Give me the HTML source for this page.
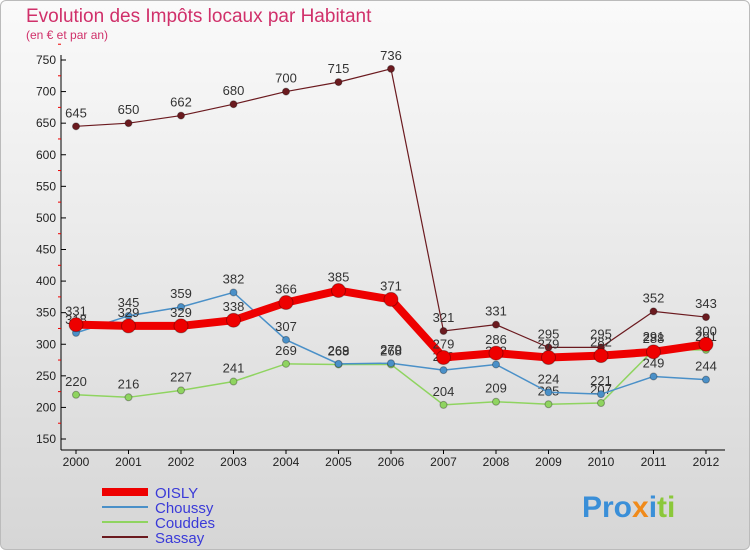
<!DOCTYPE html>
<html><head><meta charset="utf-8"><style>
body{margin:0;width:750px;height:550px;overflow:hidden;font-family:"Liberation Sans",sans-serif}
#c{position:absolute;left:0;top:0;width:748px;height:548px;border:1px solid #bbb;border-radius:6px;background:linear-gradient(#fafafa,#d6d6d6)}
</style></head><body>
<div id="c"></div>
<svg id="s" width="750" height="550" style="position:absolute;left:0;top:0">
<text x="26" y="22" font-size="19" fill="#d0306a">Evolution des Impôts locaux par Habitant</text>
<text x="26" y="39" font-size="12" fill="#d0306a">(en € et par an)</text>
<g id="ax"></g><g id="ser"></g><g id="leg"></g>
<text x="582" y="517" font-size="30" font-weight="bold" fill="#3a8fd8">Pro<tspan fill="#f08a1a">x</tspan><tspan fill="#3a8fd8">i</tspan><tspan fill="#8bc83a">ti</tspan></text>
</svg>
<script>
const years=[2000,2001,2002,2003,2004,2005,2006,2007,2008,2009,2010,2011,2012];
const yTicks=[150,200,250,300,350,400,450,500,550,600,650,700,750];
const oisly=[331,329,329,338,366,385,371,279,286,279,282,288,300];
const choussy=[318,345,359,382,307,269,270,259,268,224,221,249,244];
const couddes=[220,216,227,241,269,268,268,204,209,205,207,291,291];
const sassay=[645,650,662,680,700,715,736,321,331,295,295,352,343];
const NS="http://www.w3.org/2000/svg";
const X=i=>76+i*52.5, Y=v=>60+(750-v)*(379/600);
function mk(t,a,p){const e=document.createElementNS(NS,t);for(const k in a)e.setAttribute(k,a[k]);(p||document.getElementById('ax')).appendChild(e);return e;}
const ax=document.getElementById('ax');
let e=mk('line',{x1:61,y1:55,x2:61,y2:450,stroke:'#000'});


e=mk('line',{x1:61,y1:450,x2:725,y2:450,stroke:'#000'});


yTicks.forEach(v=>{mk('line',{x1:61,y1:Y(v),x2:66,y2:Y(v),stroke:'#000'});mk('line',{x1:58,y1:Y(v+25),x2:61,y2:Y(v+25),stroke:'#e00'});
 const t=mk('text',{x:56,y:Y(v)+4,'font-size':12,'text-anchor':'end',fill:'#222'});t.textContent=v;
 
 });
years.forEach((y,i)=>{mk('line',{x1:X(i),y1:450,x2:X(i),y2:454,stroke:'#000'});
 const t=mk('text',{x:X(i),y:466,'font-size':12,'text-anchor':'middle',fill:'#222'});t.textContent=y;
 
 });
const g=document.getElementById('ser');
function series(d,col,w,r,name){
 const p=mk('polyline',{points:d.map((v,i)=>X(i)+','+Y(v)).join(' '),fill:'none',stroke:col,'stroke-width':w},g);
 
 
 d.forEach((v,i)=>{const c=mk('circle',{cx:X(i),cy:Y(v),r:r,fill:col,stroke:'rgba(0,0,0,0.3)'},g);
  
  
  const t=mk('text',{x:X(i),y:Y(v)-9,'font-size':13,'text-anchor':'middle',fill:'#333'},g);t.textContent=v;
  
  });
}
series(sassay,'#6b1a1f',1.2,3.5,'sassay');
series(couddes,'#8fd460',1.5,3.5,'couddes');
series(choussy,'#4a90c8',1.5,3.5,'choussy');
series(oisly,'#ee0000',8,7,'oisly');
const L=document.getElementById('leg');
[['OISLY','#ee0000',8],['Choussy','#4a90c8',2],['Couddes','#8fd460',2],['Sassay','#6b1a1f',2]].forEach((s,i)=>{
 const y=492+i*15;
 const l=mk('line',{x1:102,y1:y,x2:148,y2:y,stroke:s[1],'stroke-width':s[2]},L);
 
 
 const t=mk('text',{x:155,y:y+6,'font-size':15,fill:'#3a3ad8'},L);t.textContent=s[0];
 
 });
</script>
</body></html>
